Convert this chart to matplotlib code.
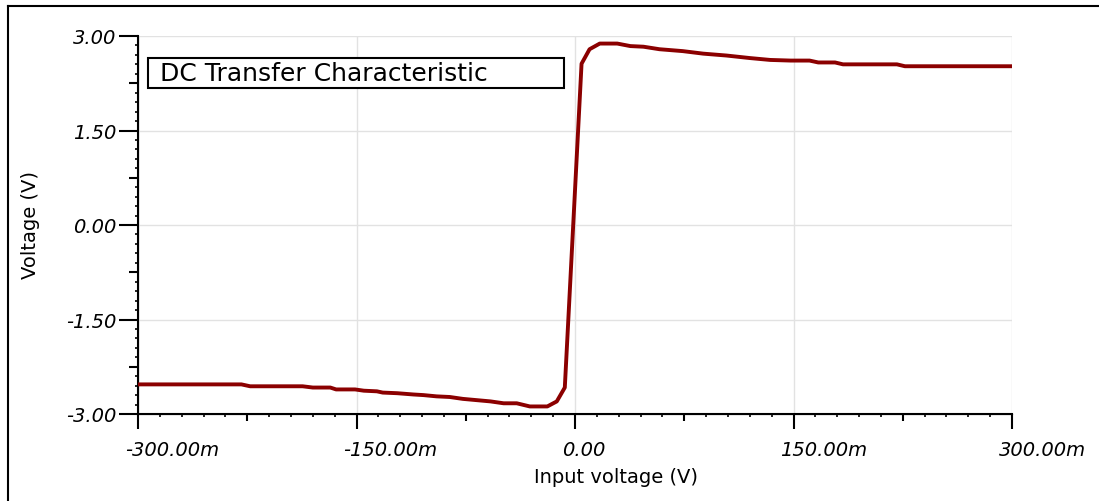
import numpy as np
import matplotlib
matplotlib.use("Agg")
import matplotlib.pyplot as plt
from matplotlib.patches import Rectangle
from matplotlib.lines import Line2D
from matplotlib.ticker import MultipleLocator, NullLocator
from matplotlib.transforms import ScaledTranslation

# DC sweep (input in mV, output in V)
vin_mv = [-300, -229, -223, -187, -180, -168, -164, -151, -145, -136, -132, -122,
          -111, -104, -95, -86, -77, -67.5, -58, -49, -40, -31, -19, -12.5, -7,
          4.5, 10, 17, 29, 38, 47, 58, 74, 88, 104, 120, 134, 148, 161, 167,
          178.5, 184, 221, 226.5, 300]
vout = [-2.53, -2.53, -2.56, -2.56, -2.58, -2.58, -2.61, -2.61, -2.63, -2.64, -2.66,
        -2.67, -2.69, -2.70, -2.72, -2.73, -2.76, -2.78, -2.80, -2.83, -2.83, -2.88,
        -2.88, -2.80, -2.58, 2.56, 2.79, 2.88, 2.88, 2.84, 2.83, 2.79, 2.76, 2.72,
        2.69, 2.65, 2.62, 2.61, 2.61, 2.58, 2.58, 2.55, 2.55, 2.52, 2.52]

x_ticks = [-0.3, -0.15, 0.0, 0.15, 0.3]
x_labels = ["-300.00m", "-150.00m", "0.00", "150.00m", "300.00m"]
y_ticks = [-3.0, -1.5, 0.0, 1.5, 3.0]
y_labels = ["-3.00", "-1.50", "0.00", "1.50", "3.00"]
x_mid = [-0.225, -0.075, 0.075, 0.225]
y_mid = [-2.25, -0.75, 0.75, 2.25]

plt.rcParams["font.family"] = ["DejaVu Sans"]

W, H = 1099, 502
fig = plt.figure(figsize=(W / 100, H / 100), dpi=100)
ax = fig.add_axes([138 / W, 1 - 415 / H, (1012 - 138) / W, (415 - 37) / H])

ax.plot(np.array(vin_mv) / 1000.0, vout, color="#8b0000", lw=2.8,
        solid_joinstyle="round", zorder=5)
ax.set_xlim(-0.3, 0.3)
ax.set_ylim(-3, 3)

for s in ("top", "right"):
    ax.spines[s].set_visible(False)
for s in ("left", "bottom"):
    ax.spines[s].set_linewidth(1.5)

ax.set_xticks(x_ticks)
ax.set_xticklabels(x_labels, fontsize=14, style="italic")
ax.set_yticks(y_ticks)
ax.set_yticklabels(y_labels, fontsize=14, style="italic")
ax.xaxis.set_minor_locator(MultipleLocator(0.015))
ax.yaxis.set_minor_locator(MultipleLocator(0.15))
ax.tick_params(axis="x", which="major", length=11, width=1.5, pad=8)
ax.tick_params(axis="y", which="major", length=13.5, width=1.5, pad=2.2)
ax.tick_params(which="minor", length=2.4, width=1.2)
ax.grid(True, which="major", color="#e2e2e2", lw=1.0, zorder=0)

# x labels start a bit left of their tick, as in the reference
off = ScaledTranslation(-13 / 100, 0, fig.dpi_scale_trans)
for lbl in ax.get_xticklabels():
    lbl.set_ha("left")
    lbl.set_transform(lbl.get_transform() + off)

# medium ticks halfway between the labelled ones
secx = ax.secondary_xaxis("bottom")
secx.set_xticks(x_mid)
secx.tick_params(length=5, width=1.5, labelbottom=False)
secx.xaxis.set_minor_locator(NullLocator())
secy = ax.secondary_yaxis("left")
secy.set_yticks(y_mid)
secy.tick_params(length=6.5, width=1.5, labelleft=False)
secy.yaxis.set_minor_locator(NullLocator())

# title box inside the plot
ax.add_patch(Rectangle((148 / W, 1 - 89 / H), (564 - 148) / W, 30 / H,
                       transform=fig.transFigure, facecolor="white",
                       edgecolor="black", lw=1.5, zorder=6))
ax.text(160 / W, 1 - 81 / H, "DC Transfer Characteristic", transform=fig.transFigure,
        ha="left", va="baseline", fontsize=18, zorder=7)

fig.text(616 / W, 1 - 483 / H, "Input voltage (V)", ha="center", va="baseline", fontsize=14)
fig.text(30 / W, 1 - 225 / H, "Voltage (V)", rotation=90, ha="center", va="center", fontsize=14)

# outer frame (left and top edges only visible)
fig.add_artist(Line2D([7.5 / W, 7.5 / W], [0, 1 - 6.5 / H], color="black", lw=1.5,
                      transform=fig.transFigure))
fig.add_artist(Line2D([7.5 / W, 1], [1 - 6.5 / H, 1 - 6.5 / H], color="black", lw=1.5,
                      transform=fig.transFigure))

fig.savefig("out.png", dpi=100)
